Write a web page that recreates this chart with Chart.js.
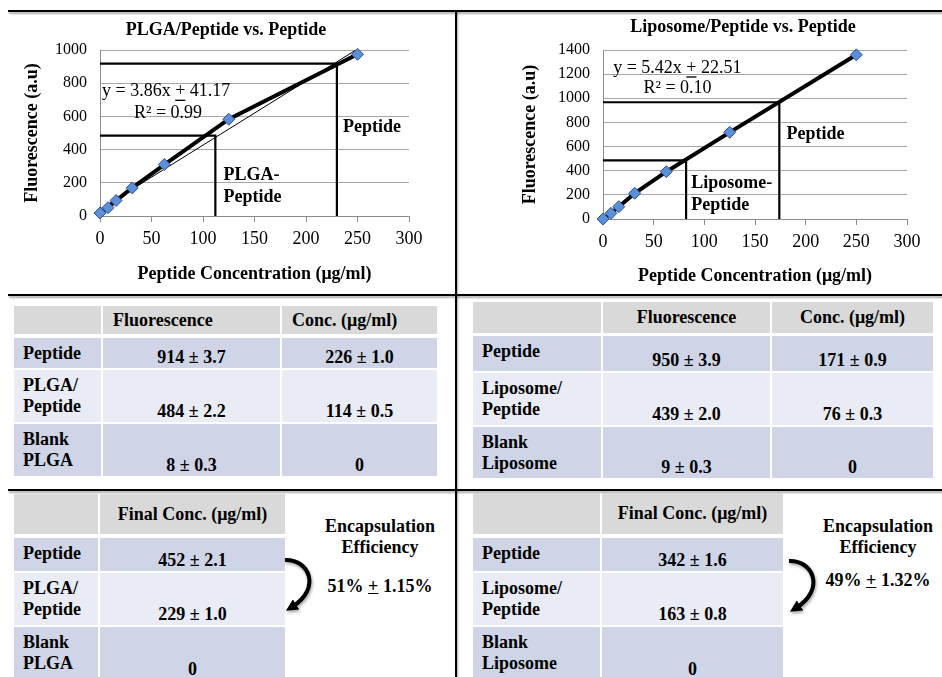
<!DOCTYPE html>
<html>
<head>
<meta charset="utf-8">
<script src="https://cdn.jsdelivr.net/npm/chart.js@4.4.1/dist/chart.umd.min.js"></script>
<style>
  body { margin: 0; width: 942px; height: 677px; background: #fff; position: relative; overflow: hidden;
         font-family: "Liberation Serif", "Times New Roman", serif; color: #000; }
  canvas { position: absolute; }
  .rule { position: absolute; background: #000; box-shadow: 1px 2px 2px rgba(0,0,0,0.35); }
  .cell { position: absolute; box-sizing: border-box; font-weight: bold; font-size: 18px; line-height: 21px; }
  .lab { padding: 5px 0 0 9px; }
  .val { display: flex; align-items: flex-end; justify-content: center; padding-bottom: 0; }
  .head { display: flex; align-items: center; }
  .note { position: absolute; font-weight: bold; font-size: 18px; line-height: 21px; text-align: center; transform: translateX(-50%); white-space: nowrap; }
  svg { position: absolute; overflow: visible; }
</style>
</head>
<body>
<canvas id="plgaChart" width="455" height="281" style="left:0;top:12px"></canvas>
<canvas id="lipoChart" width="484" height="281" style="left:458px;top:12px"></canvas>

<div class="rule" style="left:8px;top:10px;width:934px;height:2px"></div>
<div class="rule" style="left:8px;top:294px;width:934px;height:2px"></div>
<div class="rule" style="left:8px;top:489px;width:934px;height:2px"></div>
<div class="rule" style="left:455px;top:10px;width:2px;height:667px"></div>

<div id="tables"></div>

<div class="note" style="left:380px;top:516px">Encapsulation<br>Efficiency</div>
<div class="note" style="left:380px;top:576px">51% <u>+</u> 1.15%</div>
<div class="note" style="left:878px;top:516px">Encapsulation<br>Efficiency</div>
<div class="note" style="left:878px;top:570px">49% <u>+</u> 1.32%</div>

<svg width="0" height="0">
  <defs>
    <marker id="head" viewBox="0 0 10 10" refX="4" refY="5" markerWidth="3" markerHeight="3" orient="auto">
      <path d="M0 0 L10 5 L0 10 z" fill="#000"/>
    </marker>
    <filter id="sh" x="-50%" y="-50%" width="200%" height="200%">
      <feDropShadow dx="1" dy="2" stdDeviation="1.5" flood-opacity="0.35"/>
    </filter>
  </defs>
</svg>
<svg style="left:280px;top:550px" width="45" height="70">
  <path d="M5 10 C 29 9, 42 38, 12 57" stroke="#000" stroke-width="4" fill="none" marker-end="url(#head)" filter="url(#sh)"/>
</svg>
<svg style="left:784px;top:551px" width="45" height="70">
  <path d="M5 10 C 29 9, 42 38, 12 57" stroke="#000" stroke-width="4" fill="none" marker-end="url(#head)" filter="url(#sh)"/>
</svg>

<script>
// standard curve: concentration (µg/ml) vs fluorescence (a.u)
const concentrations = [0, 7.8, 15.6, 31.25, 62.5, 125, 250];
const plgaFluor = [18, 50, 93, 169, 310, 583, 974];
const lipoFluor = [0, 47, 102, 213, 392, 718, 1360];

// linear trend line (x = 0 and x = 250)
const plgaTrendX = [0, 250];
const plgaTrendY = [41, 1006];

// read-off guide lines: fluorescence -> concentration
const plgaPeptideRead = [918, 230];
const plgaSampleRead = [484, 112];
const lipoPeptideRead = [967, 174];
const lipoSampleRead = [486, 82];

const plgaYTicks = [0, 200, 400, 600, 800, 1000];
const lipoYTicks = [0, 200, 400, 600, 800, 1000, 1200, 1400];
const xTicks = [0, 50, 100, 150, 200, 250, 300];

// tables
const table1Head = ['Fluorescence', 'Conc. (\u03bcg/ml)'];
const table2Head = ['Final Conc. (\u03bcg/ml)'];
const plgaRowNames = [['Peptide'], ['PLGA/', 'Peptide'], ['Blank', 'PLGA']];
const lipoRowNames = [['Peptide'], ['Liposome/', 'Peptide'], ['Blank', 'Liposome']];
const plgaFluorCol = ['914 \u00b1 3.7', '484 \u00b1 2.2', '8 \u00b1 0.3'];
const plgaConcCol = ['226 \u00b1 1.0', '114 \u00b1 0.5', '0'];
const plgaFinalCol = ['452 \u00b1 2.1', '229 \u00b1 1.0', '0'];
const lipoFluorCol = ['950 \u00b1 3.9', '439 \u00b1 2.0', '9 \u00b1 0.3'];
const lipoConcCol = ['171 \u00b1 0.9', '76 \u00b1 0.3', '0'];
const lipoFinalCol = ['342 \u00b1 1.6', '163 \u00b1 0.8', '0'];

Chart.defaults.font.family = '"Liberation Serif", "Times New Roman", serif';
Chart.defaults.color = '#000';

function pts(xs, ys) {
    return xs.map((x, i) => ({ x: x, y: ys[i] }));
}
function guide(read) {
    return [{ x: 0, y: read[0] }, { x: read[1], y: read[0] }, { x: read[1], y: 0 }];
}

// chart title + in-plot labels
function notes(title, tx, ty, items) {
    return {
        id: 'notes',
        afterDatasetsDraw(chart) {
            const ctx = chart.ctx, sx = chart.scales.x, sy = chart.scales.y;
            ctx.save();
            ctx.fillStyle = '#000';
            ctx.textBaseline = 'middle';
            ctx.font = 'bold 18px "Liberation Serif"';
            ctx.textAlign = 'center';
            ctx.fillText(title, tx, ty);
            ctx.textAlign = 'left';
            items.forEach(n => {
                ctx.font = (n.bold ? 'bold ' : '') + '18px "Liberation Serif"';
                const px = sx.getPixelForValue(n.x), py = sy.getPixelForValue(n.y);
                ctx.fillText(n.text, px, py);
                if (n.underline) {
                    const i = n.text.indexOf(n.underline);
                    const x0 = px + ctx.measureText(n.text.slice(0, i)).width;
                    ctx.fillRect(x0, py + 8, ctx.measureText(n.underline).width, 1.3);
                }
            });
            ctx.restore();
        }
    };
}

function makeChart(id, ys, trend, reads, yMax, yTicks, geo, plugin) {
    const datasets = [{
        data: pts(concentrations, ys),
        showLine: true,
        clip: false,
        borderColor: '#000',
        borderWidth: 4,
        pointStyle: 'rectRot',
        pointRadius: 6,
        pointBackgroundColor: '#5b8fd8',
        pointBorderColor: '#2f5592',
        pointBorderWidth: 1
    }];
    if (trend) {
        datasets.push({ data: trend, showLine: true, borderColor: '#000', borderWidth: 1, pointRadius: 0 });
    }
    reads.forEach(r => datasets.push({
        data: guide(r), showLine: true, borderColor: '#000', borderWidth: 2.2, pointRadius: 0, clip: false
    }));

    return new Chart(document.getElementById(id).getContext('2d'), {
        type: 'scatter',
        data: { datasets: datasets },
        options: {
            responsive: false,
            animation: false,
            layout: { padding: { left: geo.padL, top: 38, right: geo.padR, bottom: 0 } },
            plugins: { legend: { display: false }, tooltip: { enabled: false } },
            scales: {
                x: {
                    type: 'linear', min: 0, max: 300,
                    afterBuildTicks: s => { s.ticks = xTicks.map(v => ({ value: v })); },
                    afterFit: s => { s.height = geo.xH; },
                    ticks: { font: { size: 18 }, padding: 6, maxRotation: 0, callback: v => String(v) },
                    grid: { drawOnChartArea: false, drawTicks: true, tickLength: 6, color: '#8c8c8c' },
                    border: { color: '#8c8c8c' },
                    title: { display: true, text: 'Peptide Concentration (\u03bcg/ml)',
                             font: { size: 18, weight: 'bold' }, padding: { top: 0, bottom: geo.xTitlePad } }
                },
                y: {
                    type: 'linear', min: 0, max: yMax,
                    afterBuildTicks: s => { s.ticks = yTicks.map(v => ({ value: v })); },
                    afterFit: s => { s.width = geo.yW; },
                    ticks: { font: { size: 16 }, padding: 13, callback: v => String(v) },
                    grid: { color: '#a6a6a6', drawTicks: false },
                    border: { color: '#8c8c8c' },
                    title: { display: true, text: 'Fluorescence (a.u)',
                             font: { size: 18, weight: 'bold' }, padding: { top: 8, bottom: 0 } }
                }
            }
        },
        plugins: [plugin]
    });
}

makeChart('plgaChart', plgaFluor, pts(plgaTrendX, plgaTrendY), [plgaPeptideRead, plgaSampleRead], 1000, plgaYTicks,
    { padL: 14, padR: 46, yW: 86, xH: 77, xTitlePad: 8 },
    notes('PLGA/Peptide vs. Peptide', 226, 18, [
        { text: 'y = 3.86x + 41.17', underline: '+', x: 2, y: 749 },
        { text: 'R\u00b2 = 0.99', x: 33, y: 618 },
        { text: 'Peptide', bold: true, x: 236, y: 534 },
        { text: 'PLGA-', bold: true, x: 120, y: 246 },
        { text: 'Peptide', bold: true, x: 120, y: 115 }
    ]));

makeChart('lipoChart', lipoFluor, null, [lipoPeptideRead, lipoSampleRead], 1400, lipoYTicks,
    { padL: 54, padR: 35, yW: 91, xH: 74, xTitlePad: 6 },
    notes('Liposome/Peptide vs. Peptide', 285, 15, [
        { text: 'y = 5.42x + 22.51', underline: '+', x: 10, y: 1248 },
        { text: 'R\u00b2 = 0.10', x: 40, y: 1083 },
        { text: 'Peptide', bold: true, x: 181, y: 704 },
        { text: 'Liposome-', bold: true, x: 87, y: 295 },
        { text: 'Peptide', bold: true, x: 87, y: 116 }
    ]));

// tables as positioned cells
const rowColors = ['#d9d9d9', '#cfd5e6', '#e9ecf4', '#cfd5e6'];
function makeTable(cols, rows, heads, names, valueCols, headLeft) {
    const root = document.getElementById('tables');
    function cell(c, r, cls, html, style) {
        const d = document.createElement('div');
        d.className = 'cell ' + cls;
        d.style.left = cols[c][0] + 'px';
        d.style.width = (cols[c][1] - cols[c][0]) + 'px';
        d.style.top = rows[r][0] + 'px';
        d.style.height = (rows[r][1] - rows[r][0]) + 'px';
        d.style.background = rowColors[r];
        if (style) d.style.cssText += style;
        d.innerHTML = html;
        root.appendChild(d);
    }
    cell(0, 0, 'head', '');
    heads.forEach((h, i) => cell(i + 1, 0, 'head', h,
        headLeft ? 'justify-content:flex-start;padding-left:10px' : 'justify-content:center'));
    names.forEach((n, r) => {
        cell(0, r + 1, 'lab', n.join('<br>'));
        valueCols.forEach((vc, c) => cell(c + 1, r + 1, 'val', vc[r]));
    });
}

makeTable([[14, 101], [103, 280], [282, 437]], [[306, 334], [338, 368], [370, 422], [424, 476]],
    table1Head, plgaRowNames, [plgaFluorCol, plgaConcCol], true);
makeTable([[473, 601], [603, 770], [772, 933]], [[302, 333], [336, 371], [373, 425], [427, 478]],
    table1Head, lipoRowNames, [lipoFluorCol, lipoConcCol], false);
makeTable([[14, 98], [100, 285]], [[494, 534], [538, 571], [573, 625], [627, 680]],
    table2Head, plgaRowNames, [plgaFinalCol], false);
makeTable([[473, 600], [602, 783]], [[493, 534], [538, 571], [573, 625], [627, 680]],
    table2Head, lipoRowNames, [lipoFinalCol], false);
</script>
</body>
</html>
